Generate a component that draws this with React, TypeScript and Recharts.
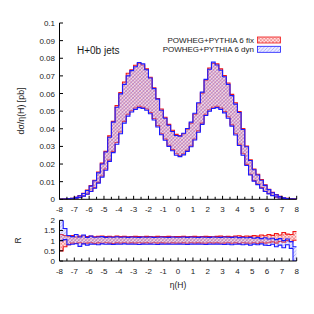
import React from 'react';
import { ComposedChart, Area, XAxis, YAxis } from 'recharts';

// Bin left edges (width 0.25) from -8 to 7.75
const binEdges = [
  -8, -7.75, -7.5, -7.25, -7, -6.75, -6.5, -6.25, -6, -5.75, -5.5, -5.25, -5, -4.75, -4.5, -4.25,
  -4, -3.75, -3.5, -3.25, -3, -2.75, -2.5, -2.25, -2, -1.75, -1.5, -1.25, -1, -0.75, -0.5, -0.25,
  0, 0.25, 0.5, 0.75, 1, 1.25, 1.5, 1.75, 2, 2.25, 2.5, 2.75, 3, 3.25, 3.5, 3.75,
  4, 4.25, 4.5, 4.75, 5, 5.25, 5.5, 5.75, 6, 6.25, 6.5, 6.75, 7, 7.25, 7.5, 7.75,
];

const fixHigh = [
  0.0000, 0.0001, 0.0003, 0.0006, 0.0012, 0.0021, 0.0034, 0.0052, 0.0078, 0.0108, 0.0155, 0.0205, 0.0272, 0.0360, 0.0442, 0.0532,
  0.0605, 0.0665, 0.0715, 0.0735, 0.0760, 0.0770, 0.0762, 0.0740, 0.0692, 0.0632, 0.0572, 0.0512, 0.0465, 0.0425, 0.0392, 0.0368,
  0.0362, 0.0372, 0.0398, 0.0432, 0.0482, 0.0542, 0.0602, 0.0675, 0.0745, 0.0770, 0.0768, 0.0740, 0.0702, 0.0660, 0.0595, 0.0548,
  0.0498, 0.0402, 0.0302, 0.0224, 0.0172, 0.0142, 0.0112, 0.0082, 0.0057, 0.0039, 0.0027, 0.0017, 0.0009, 0.0005, 0.0002, 0.0001,
];
const fixLow = [
  0.0000, 0.0000, 0.0001, 0.0003, 0.0006, 0.0011, 0.0019, 0.0030, 0.0046, 0.0066, 0.0096, 0.0132, 0.0172, 0.0222, 0.0272, 0.0322,
  0.0382, 0.0442, 0.0482, 0.0502, 0.0518, 0.0528, 0.0522, 0.0512, 0.0492, 0.0458, 0.0418, 0.0372, 0.0342, 0.0307, 0.0282, 0.0258,
  0.0248, 0.0258, 0.0278, 0.0302, 0.0342, 0.0388, 0.0432, 0.0482, 0.0508, 0.0522, 0.0528, 0.0518, 0.0498, 0.0468, 0.0422, 0.0372,
  0.0312, 0.0258, 0.0198, 0.0142, 0.0106, 0.0086, 0.0066, 0.0046, 0.0033, 0.0022, 0.0014, 0.0008, 0.0004, 0.0002, 0.0001, 0.0000,
];
const dynHigh = [
  0.0000, 0.0001, 0.0003, 0.0006, 0.0011, 0.0020, 0.0033, 0.0050, 0.0075, 0.0105, 0.0150, 0.0200, 0.0268, 0.0352, 0.0438, 0.0522,
  0.0598, 0.0652, 0.0700, 0.0730, 0.0752, 0.0776, 0.0768, 0.0735, 0.0688, 0.0628, 0.0568, 0.0505, 0.0460, 0.0420, 0.0385, 0.0362,
  0.0358, 0.0375, 0.0402, 0.0438, 0.0488, 0.0548, 0.0608, 0.0680, 0.0738, 0.0778, 0.0762, 0.0732, 0.0695, 0.0652, 0.0588, 0.0540,
  0.0492, 0.0396, 0.0298, 0.0220, 0.0168, 0.0138, 0.0108, 0.0079, 0.0055, 0.0037, 0.0025, 0.0016, 0.0009, 0.0004, 0.0002, 0.0001,
];
const dynLow = [
  0.0000, 0.0000, 0.0001, 0.0003, 0.0006, 0.0010, 0.0018, 0.0029, 0.0044, 0.0063, 0.0092, 0.0126, 0.0165, 0.0215, 0.0265, 0.0312,
  0.0372, 0.0432, 0.0472, 0.0495, 0.0510, 0.0520, 0.0516, 0.0505, 0.0485, 0.0450, 0.0410, 0.0366, 0.0335, 0.0300, 0.0275, 0.0250,
  0.0242, 0.0252, 0.0272, 0.0298, 0.0336, 0.0380, 0.0425, 0.0475, 0.0500, 0.0515, 0.0520, 0.0510, 0.0490, 0.0460, 0.0415, 0.0365,
  0.0305, 0.0250, 0.0192, 0.0138, 0.0103, 0.0083, 0.0063, 0.0044, 0.0031, 0.0021, 0.0013, 0.0007, 0.0004, 0.0002, 0.0001, 0.0000,
];

const fixRatioLow = [
  0.50, 0.70, 0.80, 0.88, 0.86, 0.90, 0.85, 0.88, 0.90, 0.86, 0.89, 0.87, 0.90, 0.88, 0.86, 0.89,
  0.88, 0.90, 0.87, 0.89, 0.88, 0.90, 0.88, 0.89, 0.87, 0.90, 0.88, 0.89, 0.88, 0.87, 0.89, 0.88,
  0.88, 0.89, 0.87, 0.90, 0.88, 0.89, 0.88, 0.87, 0.90, 0.88, 0.89, 0.87, 0.88, 0.90, 0.87, 0.89,
  0.86, 0.90, 0.88, 0.87, 0.90, 0.86, 0.92, 0.88, 0.90, 0.94, 0.88, 0.96, 0.92, 1.00, 0.95, 1.02,
];
const fixRatioHigh = [
  1.30, 1.25, 1.22, 1.25, 1.18, 1.22, 1.24, 1.20, 1.23, 1.19, 1.21, 1.22, 1.20, 1.21, 1.19, 1.22,
  1.20, 1.21, 1.19, 1.20, 1.21, 1.20, 1.19, 1.21, 1.20, 1.19, 1.21, 1.20, 1.20, 1.21, 1.19, 1.20,
  1.20, 1.21, 1.19, 1.20, 1.21, 1.19, 1.20, 1.21, 1.20, 1.19, 1.21, 1.22, 1.20, 1.21, 1.19, 1.22,
  1.24, 1.20, 1.23, 1.21, 1.25, 1.22, 1.28, 1.24, 1.30, 1.26, 1.35, 1.28, 1.40, 1.32, 1.30, 1.45,
];
const dynRatioLow = [
  1.00, 1.05, 0.80, 0.82, 0.85, 0.72, 0.84, 0.78, 0.83, 0.82, 0.80, 0.84, 0.82, 0.83, 0.81, 0.83,
  0.82, 0.84, 0.82, 0.83, 0.82, 0.81, 0.83, 0.82, 0.83, 0.82, 0.81, 0.83, 0.82, 0.83, 0.82, 0.82,
  0.83, 0.82, 0.81, 0.83, 0.82, 0.83, 0.82, 0.81, 0.83, 0.82, 0.83, 0.82, 0.81, 0.83, 0.80, 0.82,
  0.83, 0.80, 0.82, 0.78, 0.83, 0.80, 0.84, 0.78, 0.76, 0.82, 0.70, 0.78, 0.65, 0.80, 0.62, 0.00,
];
const dynRatioHigh = [
  2.00, 1.60, 1.25, 1.20, 1.30, 1.18, 1.28, 1.16, 1.22, 1.17, 1.18, 1.20, 1.16, 1.18, 1.17, 1.19,
  1.17, 1.18, 1.16, 1.18, 1.17, 1.16, 1.18, 1.17, 1.18, 1.16, 1.17, 1.18, 1.17, 1.16, 1.18, 1.17,
  1.17, 1.18, 1.16, 1.18, 1.17, 1.16, 1.18, 1.17, 1.16, 1.18, 1.17, 1.16, 1.18, 1.17, 1.16, 1.18,
  1.15, 1.17, 1.14, 1.16, 1.12, 1.15, 1.10, 1.14, 1.08, 1.12, 1.05, 1.10, 1.00, 1.08, 0.95, 0.70,
];

const xTicks = [
  -8, -7.5, -7, -6.5, -6, -5.5, -5, -4.5, -4, -3.5, -3, -2.5, -2, -1.5, -1, -0.5,
  0, 0.5, 1, 1.5, 2, 2.5, 3, 3.5, 4, 4.5, 5, 5.5, 6, 6.5, 7, 7.5, 8,
];
const mainYTicks = [0, 0.01, 0.02, 0.03, 0.04, 0.05, 0.06, 0.07, 0.08, 0.09, 0.1];
const ratioYTicks = [0, 0.5, 1, 1.5, 2];

const seriesNames = ['POWHEG+PYTHIA 6 fix', 'POWHEG+PYTHIA 6 dyn'];
const RED = '#f01818';
const BLUE = '#1a1aff';
const FONT = '"Liberation Sans", Arial, sans-serif';
const TXT = '#1a1a1a';

function buildRows(lo1: number[], hi1: number[], lo2: number[], hi2: number[]) {
  const rows = binEdges.map((x, i) => ({ x, fix: [lo1[i], hi1[i]], dyn: [lo2[i], hi2[i]] }));
  const n = binEdges.length - 1;
  rows.push({ x: 8, fix: [lo1[n], hi1[n]], dyn: [lo2[n], hi2[n]] });
  return rows;
}
const mainData = buildRows(fixLow, fixHigh, dynLow, dynHigh);
const ratioData = buildRows(fixRatioLow, fixRatioHigh, dynRatioLow, dynRatioHigh);

const isMajor = (v: number) => Math.abs(v - Math.round(v)) < 1e-6;

const XTick = (p: any) => {
  const { x, y, payload, dir, label } = p;
  const v = payload.value;
  const len = isMajor(v) ? 3.5 : 2.5;
  return (
    <g>
      <line x1={x} x2={x} y1={y} y2={y + dir * len} stroke="#000" strokeWidth={1} />
      {label && isMajor(v) ? (
        <text x={x} y={y + 12.8} textAnchor="middle" fontSize={8} fontFamily={FONT} fill={TXT}>
          {String(v)}
        </text>
      ) : null}
    </g>
  );
};

const YTick = (p: any) => {
  const { x, y, payload, dir, label } = p;
  const v = payload.value;
  return (
    <g>
      <line x1={x} x2={x + dir * 3.5} y1={y} y2={y} stroke="#000" strokeWidth={1} />
      {label ? (
        <text x={x - 4.5} y={y + 3} textAnchor="end" fontSize={8} fontFamily={FONT} fill={TXT}>
          {String(v)}
        </text>
      ) : null}
    </g>
  );
};

function Panel(props: {
  data: any[];
  height: number;
  top: number;
  marginTop: number;
  xAxisHeight: number;
  domain: [number, number];
  yTicks: number[];
}) {
  const { data, height, top, marginTop, xAxisHeight, domain, yTicks } = props;
  return (
    <div style={{ position: 'absolute', left: 0, top }}>
      <ComposedChart width={314} height={height} data={data} margin={{ top: marginTop, right: 17.3, left: 0, bottom: 0 }}>
        <XAxis
          xAxisId="b"
          dataKey="x"
          type="number"
          domain={[-8, 8]}
          ticks={xTicks}
          interval={0}
          tickSize={0}
          tickMargin={0}
          tickLine={false}
          axisLine={{ stroke: '#000', strokeWidth: 1 }}
          height={xAxisHeight}
          allowDataOverflow
          tick={(p: any) => <XTick {...p} dir={-1} label />}
        />
        <XAxis
          xAxisId="t"
          orientation="top"
          dataKey="x"
          type="number"
          domain={[-8, 8]}
          ticks={xTicks}
          interval={0}
          tickSize={0}
          tickMargin={0}
          tickLine={false}
          axisLine={{ stroke: '#000', strokeWidth: 1 }}
          height={0}
          allowDataOverflow
          tick={(p: any) => <XTick {...p} dir={1} />}
        />
        <YAxis
          yAxisId="l"
          type="number"
          domain={domain}
          ticks={yTicks}
          interval={0}
          tickSize={0}
          tickMargin={0}
          tickLine={false}
          axisLine={{ stroke: '#000', strokeWidth: 1 }}
          width={59.5}
          allowDataOverflow
          tick={(p: any) => <YTick {...p} dir={1} label />}
        />
        <YAxis
          yAxisId="r"
          orientation="right"
          type="number"
          domain={domain}
          ticks={yTicks}
          interval={0}
          tickSize={0}
          tickMargin={0}
          tickLine={false}
          axisLine={{ stroke: '#000', strokeWidth: 1 }}
          width={0}
          allowDataOverflow
          tick={(p: any) => <YTick {...p} dir={-1} />}
        />
        <Area
          xAxisId="b"
          yAxisId="l"
          type="stepAfter"
          dataKey="fix"
          stroke={RED}
          strokeWidth={1.1}
          fill="url(#hatchFix)"
          fillOpacity={1}
          isAnimationActive={false}
          dot={false}
          activeDot={false}
        />
        <Area
          xAxisId="b"
          yAxisId="l"
          type="stepAfter"
          dataKey="dyn"
          stroke={BLUE}
          strokeWidth={1.1}
          fill="url(#hatchDyn)"
          fillOpacity={1}
          isAnimationActive={false}
          dot={false}
          activeDot={false}
        />
      </ComposedChart>
    </div>
  );
}

export default function App() {
  return (
    <div style={{ position: 'absolute', left: 0, top: 0, width: 314, height: 314, background: '#fff', fontFamily: FONT }}>
      <svg width={0} height={0} style={{ position: 'absolute' }}>
        <defs>
          <pattern id="hatchFix" width={3.5} height={3.5} patternUnits="userSpaceOnUse">
            <rect width={3.5} height={3.5} fill="rgba(255,180,180,0.4)" />
            <path d="M0,0 L3.5,3.5 M3.5,0 L0,3.5" stroke="#f06a6a" strokeWidth={0.6} />
          </pattern>
          <pattern id="hatchDyn" width={3.5} height={3.5} patternUnits="userSpaceOnUse">
            <rect width={3.5} height={3.5} fill="rgba(170,170,255,0.22)" />
            <path d="M-1,1 L1,-1 M0,3.5 L3.5,0 M2.5,4.5 L4.5,2.5" stroke="#7a7af5" strokeWidth={0.5} />
          </pattern>
        </defs>
      </svg>
      <Panel data={mainData} height={215} top={0} marginTop={23} xAxisHeight={15.7} domain={[0, 0.1]} yTicks={mainYTicks} />
      <Panel data={ratioData} height={90} top={200} marginTop={20.3} xAxisHeight={29} domain={[0, 2]} yTicks={ratioYTicks} />
      <svg width={314} height={314} style={{ position: 'absolute', left: 0, top: 0, pointerEvents: 'none' }}>
        <text x={77} y={54} fontSize={10} fontFamily={FONT} fill={TXT}>H+0b jets</text>
        <text x={254} y={42.8} textAnchor="end" fontSize={8} fontFamily={FONT} fill={TXT}>{seriesNames[0]}</text>
        <rect x={257.5} y={37} width={23} height={6} fill="url(#hatchFix)" stroke={RED} strokeWidth={0.8} />
        <text x={254} y={52} textAnchor="end" fontSize={8} fontFamily={FONT} fill={TXT}>{seriesNames[1]}</text>
        <rect x={257.5} y={46.3} width={23} height={6} fill="url(#hatchDyn)" stroke={BLUE} strokeWidth={0.8} />
        <text x={21} y={111} transform="rotate(-90 21 111)" textAnchor="middle" dominantBaseline="central" fontSize={8.8} fontFamily={FONT} fill={TXT}>
          dσ/η(H) [pb]
        </text>
        <text x={17.5} y={240.5} transform="rotate(-90 17.5 240.5)" textAnchor="middle" dominantBaseline="central" fontSize={8.5} fontFamily={FONT} fill={TXT}>
          R
        </text>
        <text x={178} y={288} textAnchor="middle" fontSize={8.5} fontFamily={FONT} fill={TXT}>η(H)</text>
      </svg>
    </div>
  );
}
